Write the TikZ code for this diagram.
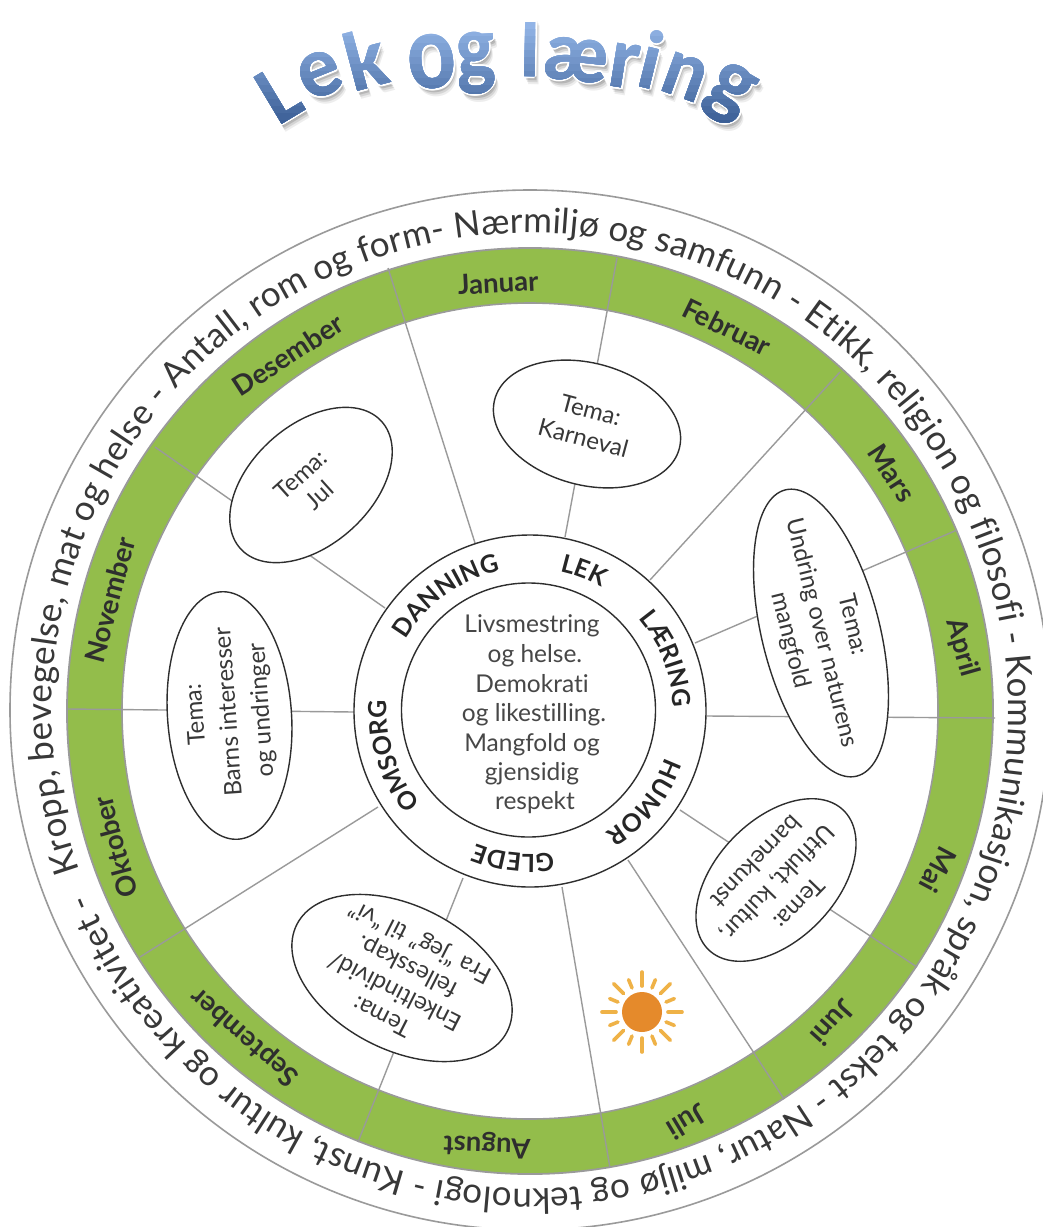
\documentclass[tikz,border=0pt]{standalone}
\usepackage{fontspec}
\setmainfont[Ligatures=NoCommon]{Lato}
\newfontfamily\titlefont{Carlito}
\usetikzlibrary{decorations.text,shapes.geometric}
\definecolor{ringgreen}{HTML}{93BD4B}
\definecolor{spokegrey}{HTML}{9A9A9A}
\definecolor{inkdark}{HTML}{2E2E2E}
\definecolor{titledark}{HTML}{34588F}
\definecolor{titlelight}{HTML}{92B4E6}
\definecolor{sunorange}{HTML}{E58A2B}
\definecolor{sunray}{HTML}{EFB247}
\tikzset{
 spoke/.style={draw=spokegrey,line width=1.4pt},
 theme/.style={ellipse,draw=inkdark,line width=1.4pt,fill=white,inner sep=0pt},
 themetext/.style={align=center,text=black!78,font=\fontsize{24}{#1}\selectfont},
 themetext/.default=30,
 month/.style={text=black!82,font=\fontsize{27.5}{30}\bfseries\selectfont},
 corelabel/.style={text=black!72,font=\fontsize{24.5}{30}\selectfont,anchor=base},
}
\newcommand{\arctext}[3]{% text, start angle, radius
 \path[decorate,decoration={text along path,text align={fit to path},text={|\fontsize{35}{38}\selectfont\color{black!78}|#1}}]
  (#2:#3) arc[start angle=#2,end angle=#2-357,radius=#3];}
\newcommand{\corearc}[2]{%
 \path[decorate,decoration={text along path,text align=center,text={|\fontsize{25}{28}\bfseries\selectfont\color{black!85}|#1}}]
  (#2+40:143) arc[start angle=#2+40,end angle=#2-40,radius=143];}
\newcommand{\titleletters}[1]{%
 \foreach \ch/\xx/\yy/\rr/\sx/\sy in {
   L/279/94/31/.95/1.0,
   e/320/75/22/1/1.05,
   k/365/59/15/1/1.0,
   o/432/62/6/1.08/1.3,
   g/476/63/3/.98/1.12,
   l/530/47/-1/1/1.0,
   æ/576/60/-6/1/1.02,
   r/625/66/-9/1/1.07,
   i/652/59/-14/1/1.0,
   n/685/77/-20/.95/1.02,
   g/729/94/-30/1.05/1.08}{
   \node[#1,inner sep=0pt,rotate=\rr,xscale=\sx,yscale=\sy] at (\xx,\yy) {\titlefont\bfseries\fontsize{84}{84}\selectfont\ch};
 }}
\begin{document}
\begin{tikzpicture}[x=1pt,y=-1pt]
\useasboundingbox (0,0) rectangle (1043,1227);
\clip (0,0) rectangle (1043,1227);
\fill[white] (0,0) rectangle (1043,1227);
% title
\foreach \dx/\dy/\op in {1/2/.16,2/4/.14,3/6/.1,4/8/.07}{
  \begin{scope}[shift={(\dx pt,-\dy pt)}]
   \titleletters{text=black,opacity=\op}
  \end{scope}}
\foreach \dx/\dy in {-2/0,2/0,0/-2,0/2,-1.5/-1.5,1.5/1.5,1.5/-1.5,-1.5/1.5}{
  \begin{scope}[shift={(\dx pt,\dy pt)}]
   \titleletters{text=white}
  \end{scope}}
\foreach \k in {0,...,15}{
  \pgfmathsetmacro{\yband}{22+\k*7}
  \pgfmathsetmacro{\mixv}{100-\k*100/15}
  \begin{scope}
   \clip (200,\yband) rectangle (800,140);
   \titleletters{text=titlelight!\mixv!titledark}
  \end{scope}}
% wheel
\coordinate (c) at (530,711);
\begin{scope}[shift={(c)},y=1pt]
 \draw[spokegrey,line width=1.6pt] (0,1) circle[radius=520];
 \fill[ringgreen] (0,0) circle[radius=463];
 \draw[spokegrey,line width=1.8pt] (0,0) circle[radius=463];
 \draw[spokegrey,line width=1.6pt,fill=white] (0,0) circle[radius=408];
 \arctext{Kropp, bevegelse, mat og helse - Antall, rom og form- Nærmiljø og samfunn - Etikk, religion og filosofi - Kommunikasjon, språk og tekst - Natur, miljø og teknologi - Kunst, kultur og kreativitet -}{199.5}{478}
\end{scope}
% spokes
\foreach \ax/\ay/\bx/\by in {
 388/268/475/543,
 617/258/565/537,
 840/372/650/580,
 957/530/695/643,
 995/718/707/716,
 917/967/680/810,
 784/1099/628/860,
 610/1168/562/887,
 358/1142/463/878,
 140/957/378/807,
 68/709/354/712,
 155/447/385/608}{
 \draw[spoke] (\ax,\ay) -- (\bx,\by);
}
% core
\begin{scope}[shift={(c)},y=1pt]
 \draw[inkdark,line width=1.4pt,fill=white] (0,0) circle[radius=176];
 \draw[inkdark,line width=1.4pt] (-1.5,1) circle[radius=127];
 \corearc{DANNING}{126}
 \corearc{LEK}{69}
 \corearc{LÆRING}{21}
 \corearc{HUMOR}{-38.5}
 \corearc{GLEDE}{-96.5}
 \corearc{OMSORG}{-162}
\end{scope}
\node[corelabel] (c1) at (532,632) {Livsmestring};
\node[corelabel] (c2) at (535,662) {og helse.};
\node[corelabel] (c3) at (532,692) {Demokrati};
\node[corelabel] (c4) at (534,721) {og likestilling.};
\node[corelabel] (c5) at (532,751) {Mangfold og};
\node[corelabel] (c6) at (532,780) {gjensidig};
\node[corelabel] (c7) at (535,809) {respekt};
% themes
\node[theme,minimum width=191pt,minimum height=122pt,rotate=-15] (e1) at (587,424) {};
\node[themetext=29,rotate=-15] (t1) at (587,424) {Tema:\\Karneval};
\node[theme,minimum width=190pt,minimum height=120pt,rotate=42] (e2) at (311,485) {};
\node[themetext=28,rotate=42] (t2) at (310,485) {Tema:\\Jul};
\node[theme,minimum width=248pt,minimum height=124pt,rotate=94] (e3) at (229.5,715.5) {};
\node[themetext=33,rotate=94] (t3) at (229.5,712) {Tema:\\Barns interesser\\og undringer};
\node[theme,minimum width=295pt,minimum height=118pt,rotate=-76] (e4) at (821,633) {};
\node[themetext=32,rotate=-76] (t4) at (821,633) {Tema:\\Undring over naturens\\mangfold};
\node[theme,minimum width=194pt,minimum height=120pt,rotate=226] (e5) at (776,880) {};
\node[themetext=30,rotate=226] (t5) at (778,883) {Tema:\\Utflukt, kultur,\\barnekunst};
\node[theme,minimum width=236pt,minimum height=144pt,rotate=153] (e6) at (402,978) {};
\node[themetext=28,rotate=153] (t6) at (402,978) {Tema:\\Enkeltindivid/\\fellesskap.\\Fra “jeg” til “vi”};
% months
\node[month,rotate=3] (m1) at (498,283) {Januar};
\node[month,rotate=-26] (m2) at (727,327) {Februar};
\node[month,rotate=-57] (m3) at (892,473) {Mars};
\node[month,rotate=-74] (m4) at (962,648) {April};
\node[month,rotate=-118] (m5) at (938,870) {Mai};
\node[month,rotate=-132] (m6) at (833,1023) {Juni};
\node[month,rotate=211] (m7) at (687,1122) {Juli};
\node[month,rotate=178] (m8) at (487,1145) {August};
\node[month,rotate=139] (m9) at (245,1037) {September};
\node[month,rotate=105] (m10) at (115,847) {Oktober};
\node[month,rotate=75] (m11) at (110,600) {November};
\node[month,rotate=33] (m12) at (288,355) {Desember};
% sun
\begin{scope}[shift={(642,1012)}]
 \fill[sunorange] (0,0) circle[radius=20];
 \foreach \a [count=\n] in {0,22.5,...,337.5}{
  \pgfmathsetmacro{\rend}{isodd(\n)?40:35}
  \draw[sunray,line width=3.6pt,line cap=round] (\a:26) -- (\a:\rend);
 }
\end{scope}
\end{tikzpicture}
\end{document}
